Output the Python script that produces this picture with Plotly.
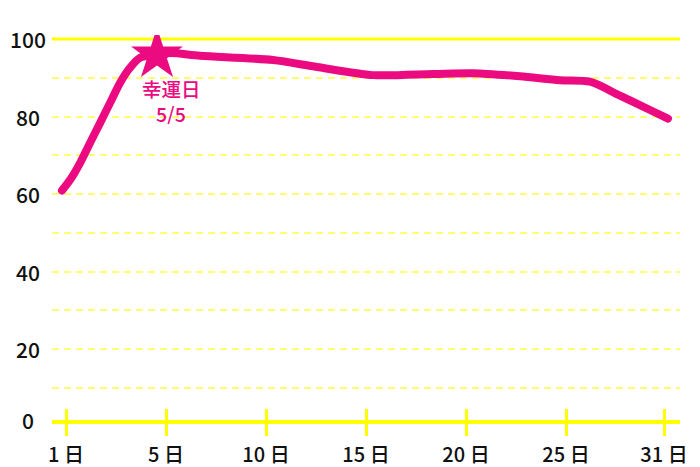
import plotly.graph_objects as go

# ---- data ----
tick_pos = [0, 1, 2, 3, 4, 5, 5.98]
tick_labels = ["1 日", "5 日", "10 日", "15 日", "20 日", "25 日", "31 日"]

line_pos = [-0.04, 0.05, 0.14, 0.24, 0.34, 0.44, 0.54, 0.64, 0.74, 0.91, 1.04,
            1.34, 2.07, 2.51, 3.07, 3.67, 4.07, 4.54, 4.94, 5.24, 5.54,
            5.84, 6.02]
line_vals = [60.9, 64.0, 68.0, 73.2, 78.3, 83.5, 88.7, 92.6, 95.2, 95.9, 96.4,
             95.7, 94.6, 92.8, 90.7, 91.0, 91.2, 90.4, 89.4, 89.0, 85.4,
             81.7, 79.5]

lucky_pos = [0.91]
lucky_val = [95.9]
lucky_lines = ["幸運日", "5/5"]

y_labels = [0, 20, 40, 60, 80, 100]
y_grid = [10, 20, 30, 40, 50, 60, 70, 80, 90]

PINK = "#EC0A80"
YELLOW = "#FFFF00"
GRID = "#FFFF70"
FONT = "Noto Sans CJK JP"

y_range = [1.68, 101.06]
x_range = [-0.14, 6.14]

ML, MR, MT, MB = 52, 20, 35, 47
W, H = 700, 467

fig = go.Figure()
fig.add_trace(go.Scatter(
    x=line_pos, y=line_vals, mode="lines",
    line=dict(color=PINK, width=8, shape="spline", smoothing=0.8),
    hoverinfo="skip", showlegend=False))
fig.add_trace(go.Scatter(
    x=lucky_pos, y=lucky_val, mode="markers",
    marker=dict(symbol="star", size=39, color=PINK, line=dict(width=0)),
    hoverinfo="skip", showlegend=False))
# invisible trace on second x axis (inside ticks)
fig.add_trace(go.Scatter(x=[x_range[0]], y=[y_range[0]], xaxis="x2", mode="markers",
                         marker=dict(opacity=0), hoverinfo="skip", showlegend=False))

for i, txt in enumerate(lucky_lines):
    fig.add_annotation(x=lucky_pos[0], y=lucky_val[0], text=txt, showarrow=False,
                       xref="x", yref="y", xanchor="center", yanchor="middle",
                       xshift=14, yshift=-34 - 24.5 * i, height=21, borderpad=0,
                       font=dict(family=FONT, size=19.5, color=PINK, weight=500))

# 100 solid line
fig.add_shape(type="line", xref="paper", yref="y", x0=0, x1=1, y0=100, y1=100,
              line=dict(color=YELLOW, width=3), layer="below")

label_x = (28 - ML) / (W - ML - MR)
for v in y_labels:
    yy = max(v, y_range[0])
    fig.add_annotation(x=label_x, xref="paper", y=yy, yref="y", text=str(v), showarrow=False,
                       xanchor="center", yanchor="middle",
                       font=dict(family=FONT, size=21, color="#111111", weight=500))

fig.update_layout(
    width=W, height=H,
    margin=dict(l=ML, r=MR, t=MT, b=MB, autoexpand=False),
    paper_bgcolor="white", plot_bgcolor="white",
    xaxis=dict(range=x_range, tickvals=tick_pos, ticktext=tick_labels,
               showgrid=False, zeroline=False, automargin=False,
               showline=True, linecolor=YELLOW, linewidth=4,
               ticks="outside", ticklen=12, tickwidth=3, tickcolor=YELLOW,
               tickfont=dict(family=FONT, size=20, color="#111111", weight=500),
               ticklabelstandoff=2),
    xaxis2=dict(range=x_range, overlaying="x", side="bottom", matches="x",
                tickvals=tick_pos, showticklabels=False, showgrid=False,
                zeroline=False, ticks="inside", ticklen=11, tickwidth=3,
                tickcolor=YELLOW, showline=False, automargin=False),
    yaxis=dict(range=y_range, tickvals=y_grid, showticklabels=False, automargin=False,
               showgrid=True, gridcolor=GRID, gridwidth=2, griddash="7px,5px",
               zeroline=False, showline=False, ticks=""),
)

post = """
document.body.style.margin='0';
document.body.style.overflow='hidden';
document.querySelectorAll('.scatterlayer .js-line').forEach(function(p){
  p.style.strokeLinecap='round'; p.style.strokeLinejoin='round';});
"""
fig.write_html("out.html", post_script=post, config={"displayModeBar": False})
